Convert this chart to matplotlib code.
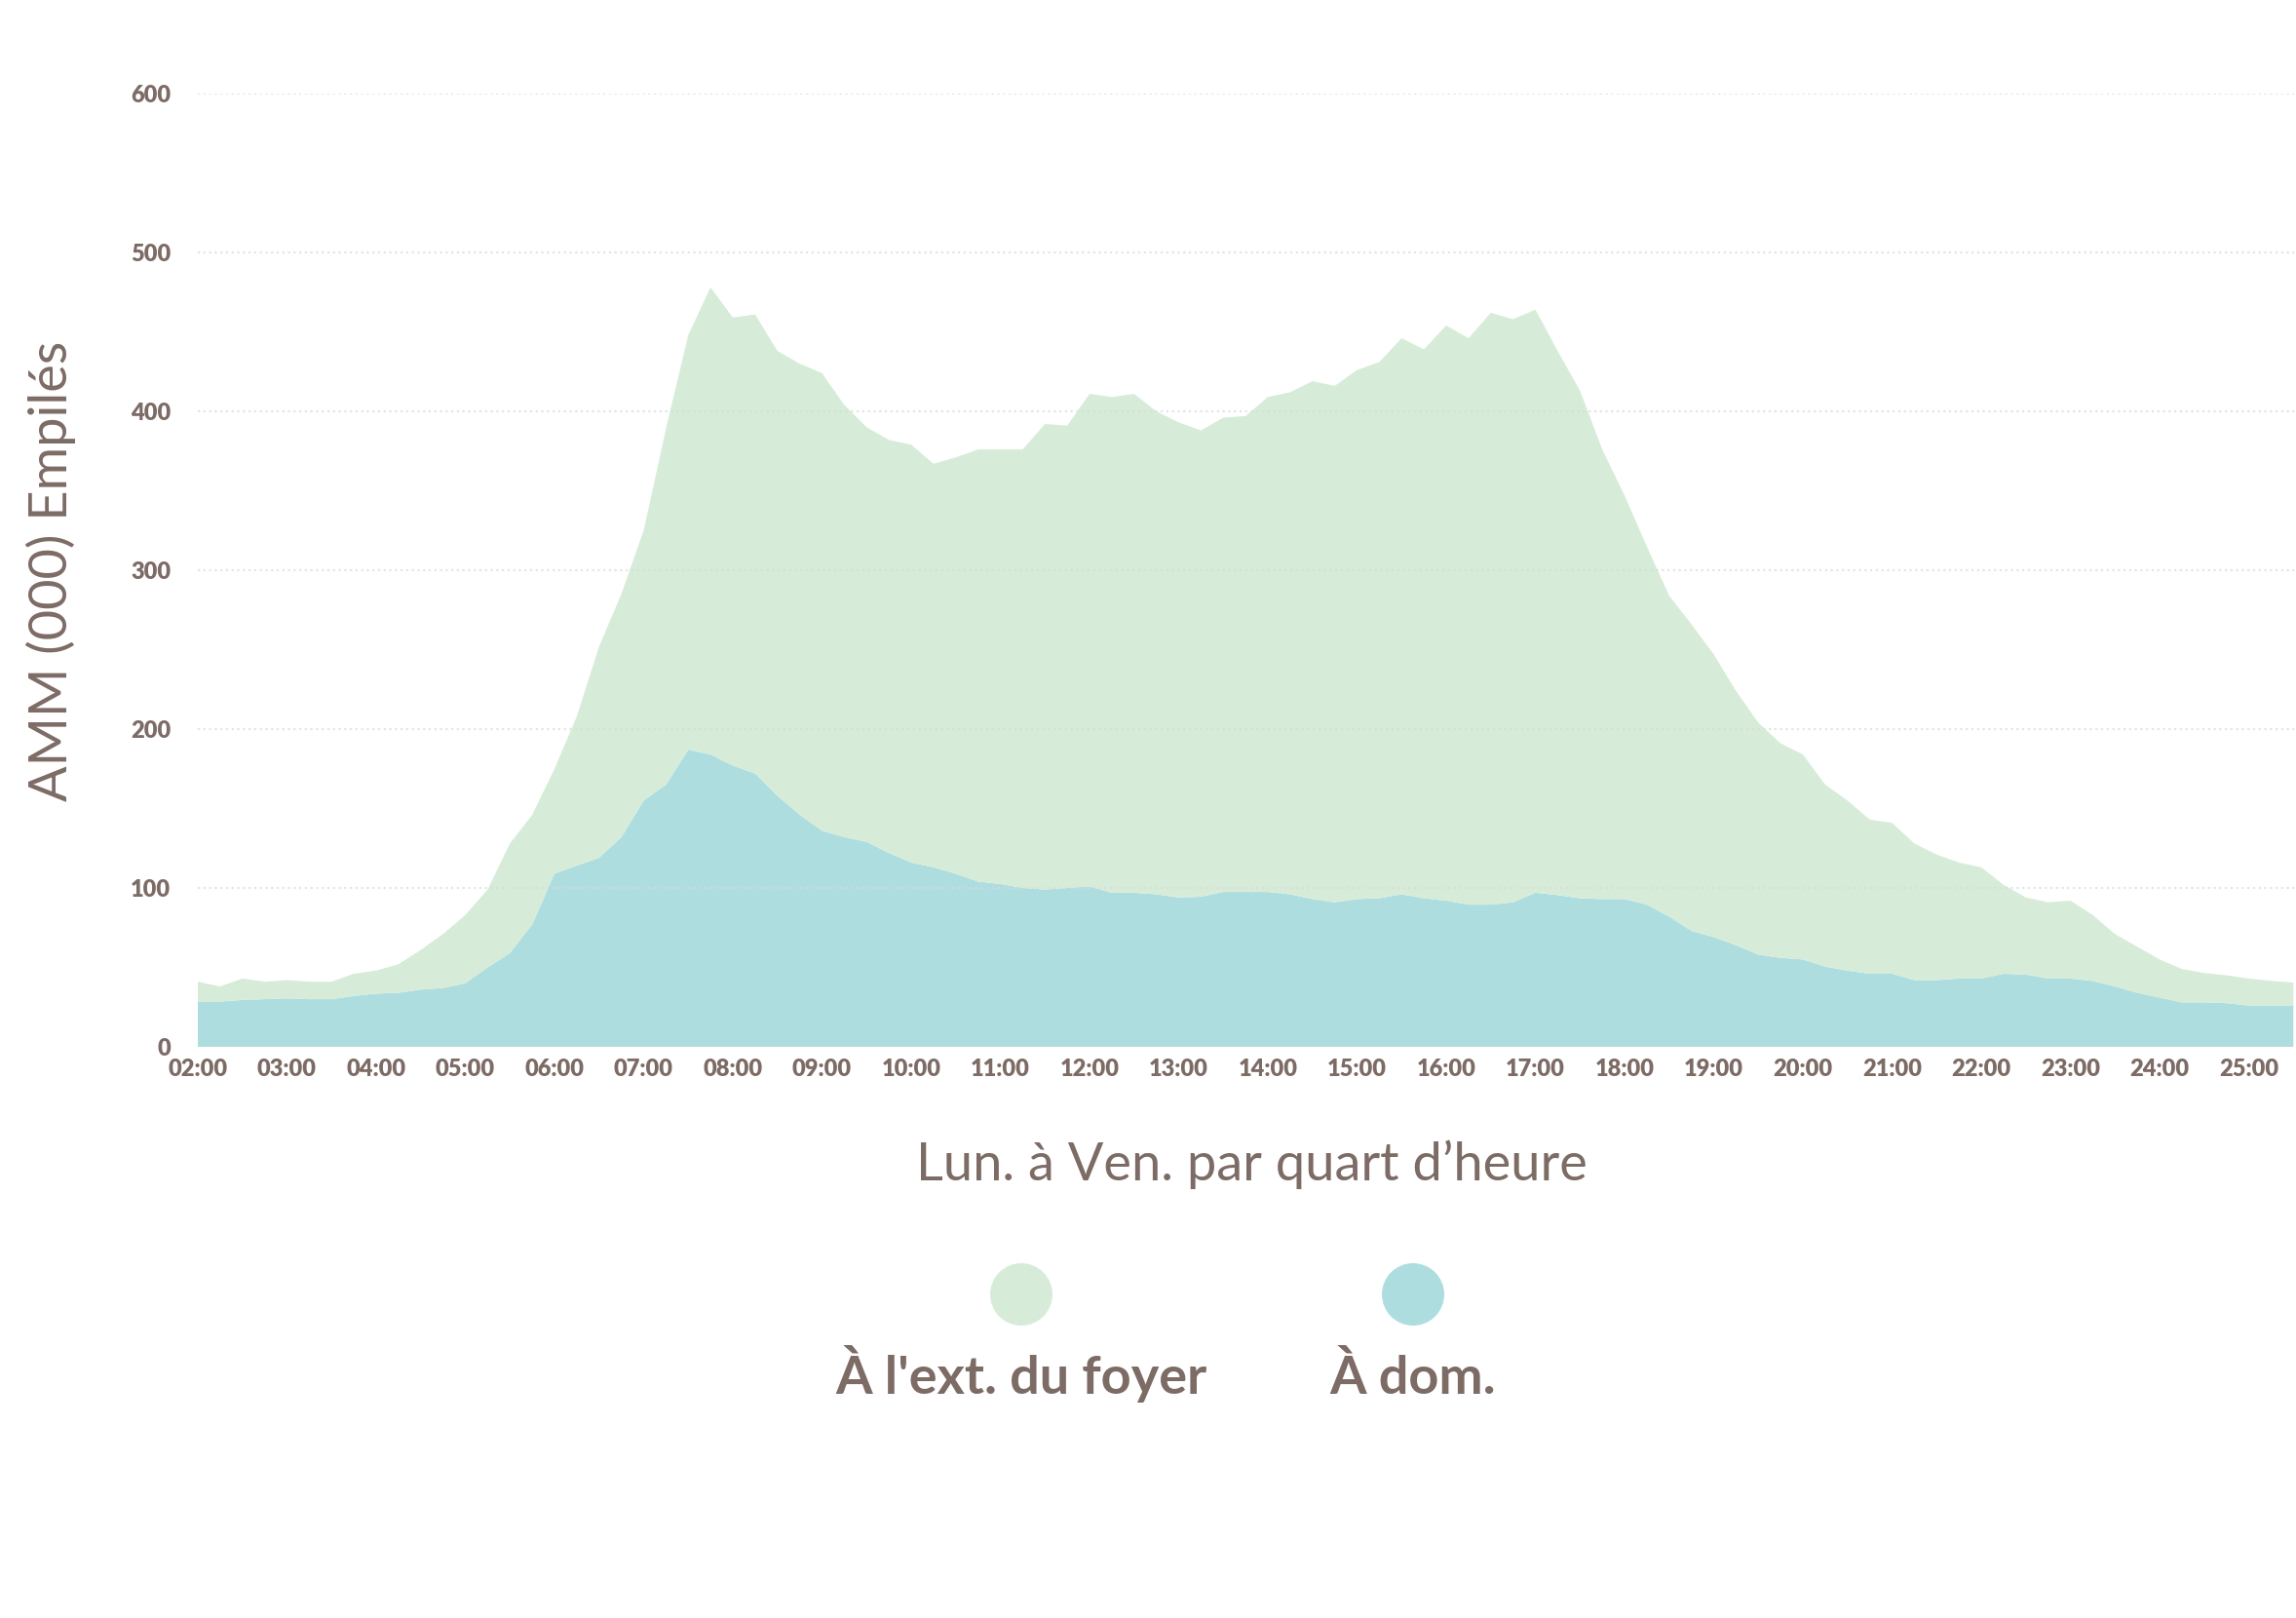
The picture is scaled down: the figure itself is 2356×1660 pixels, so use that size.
import numpy as np
import matplotlib
matplotlib.use("Agg")
import matplotlib.pyplot as plt
from matplotlib.patches import Circle

# quarter-hour readings, 02:00 -> 25:30 (thousands, stacked)
total_vals = [41, 38, 43, 41, 42, 41, 41, 46, 48, 52,
              61, 71, 83, 99, 128, 146, 175, 208, 252, 285,
              325, 389, 448, 478, 459, 461, 438, 430, 424, 404,
              390, 382, 379, 367, 371, 376, 376, 376, 392, 391,
              411, 409, 411, 400, 393, 388, 396, 397, 409, 412,
              419, 416, 426, 431, 446, 439, 454, 446, 462, 458,
              464, 438, 413, 376, 347, 315, 284, 266, 247, 224,
              204, 191, 184, 165, 155, 143, 141, 128, 121, 116,
              113, 102, 94, 91, 92, 83, 71, 63, 55, 49,
              46.5, 45, 43, 41.5, 40.5]
dom_vals = [28.5, 28.5, 29.5, 30, 30.5, 30, 30, 32, 33.5, 34,
            36, 37, 40, 50, 59, 77, 109, 114, 119, 132,
            155, 165, 187, 184, 177, 172, 158, 146, 136, 132,
            129, 122, 116, 113, 109, 104, 102.5, 100, 99, 100,
            101, 97, 97, 96, 94, 94.5, 97.5, 97.5, 97.5, 96,
            93, 91, 93, 93.5, 96, 93.5, 92, 89.5, 89.5, 91,
            97, 95.5, 93.5, 93, 93, 89.5, 82, 73, 69, 64,
            58, 56, 55, 50.5, 48, 46, 46, 42, 42, 43,
            43, 46, 45.5, 43, 43, 41.5, 38, 34, 31, 28,
            28, 27.5, 26, 26, 26]
hours = [2 + q * 0.25 for q in range(len(total_vals))]
tick_hours = list(range(2, 26))
tick_labels = ["%02d:00" % h for h in tick_hours]
y_ticks = [0, 100, 200, 300, 400, 500, 600]
series_names = ["À l'ext. du foyer", "À dom."]

GREEN = "#d6ecd8"
BLUE = "#aedde0"
TEXT = "#7d6b65"

W, H = 2356, 1660
fig = plt.figure(figsize=(W / 100, H / 100), dpi=100)
fig.patch.set_facecolor("white")

ax = fig.add_axes([203 / W, 1 - 1074 / H, 1 - 203 / W, (1074 - 96) / H])
total = np.array(total_vals)
dom = np.array(dom_vals)
ax.stackplot(hours, dom, total - dom, colors=[BLUE, GREEN], linewidth=0, zorder=1)

ax.set_xlim(2, 2 + (W - 203) / 91.5)
ax.set_ylim(0, 600)
for s in ax.spines.values():
    s.set_visible(False)
ax.tick_params(length=0)
ax.set_xticks(tick_hours)
ax.set_xticklabels(tick_labels)
ax.set_yticks(y_ticks)
ax.set_yticklabels([str(v) for v in y_ticks])
for lab in ax.get_xticklabels() + ax.get_yticklabels():
    lab.set_family("Lato")
    lab.set_weight("heavy")
    lab.set_fontsize(17)
    lab.set_color(TEXT)
ax.tick_params(axis="x", pad=9)
ax.tick_params(axis="y", pad=20)

# dotted grid lines
for v in y_ticks[1:]:
    ax.axhline(v, color="#d9d9d9", lw=1.6, ls=(0, (1, 1.6)), alpha=0.7, zorder=2)

fig.text(52 / W, 1 - 586 / H, "AMM (000) Empilés", rotation=90, ha="center", va="center",
         fontsize=39, color=TEXT, family="Lato")
fig.text(1284 / W, 1 - 1195 / H, "Lun. à Ven. par quart d\u2019heure", ha="center", va="center",
         fontsize=39, color=TEXT, family="Lato")

# legend: circle above label
lax = fig.add_axes([0, 0, 1, 1])
lax.set_xlim(0, W)
lax.set_ylim(H, 0)
lax.axis("off")
for cx, name, col in zip([1048, 1450], series_names, [GREEN, BLUE]):
    lax.add_patch(Circle((cx, 1328), 32, color=col, lw=0))
    lax.text(cx, 1430, name, ha="center", va="baseline", fontsize=39, color=TEXT,
             family="Lato", weight="bold")

fig.savefig("out.png", dpi=100, facecolor="white")
